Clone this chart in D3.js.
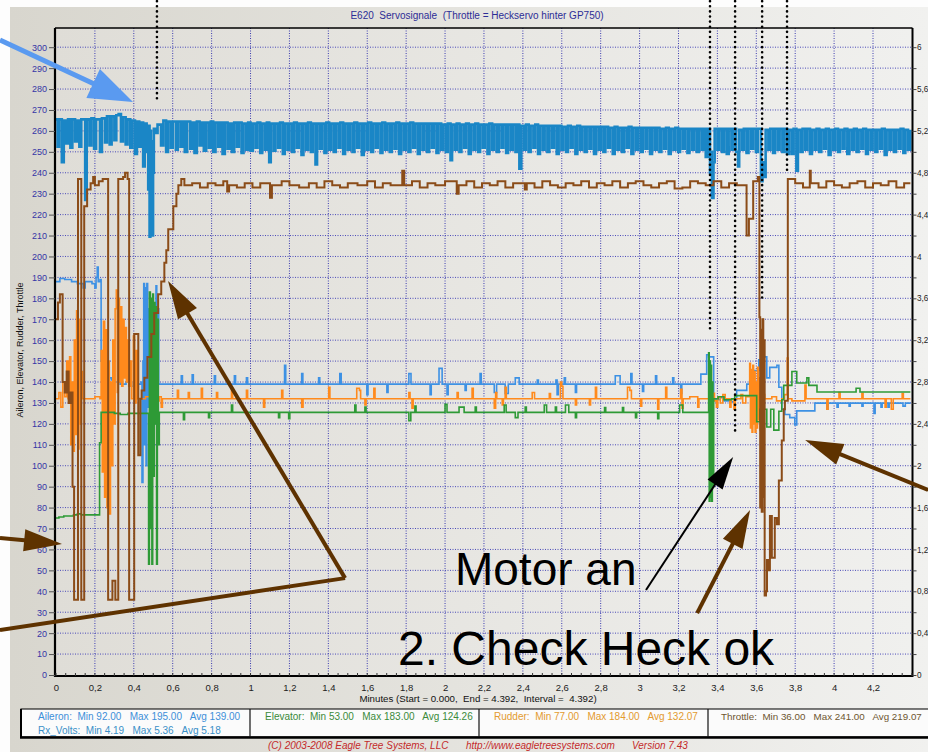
<!DOCTYPE html>
<html><head><meta charset="utf-8">
<script src="https://cdn.jsdelivr.net/npm/d3@7"></script>
<style>body{margin:0;background:#fff;} svg{display:block;} text{white-space:pre;}</style>
</head><body>
<svg id="c" width="928" height="752"></svg>
<script>
// ---------------- DATA ----------------
const chartTitle = "E620  Servosignale  (Throttle = Heckservo hinter GP750)";
const xTitle = "Minutes (Start = 0.000,  End = 4.392,  Interval =  4.392)";
const yTitle = "Aileron, Elevator, Rudder, Throttle";
const copyrightParts = ["(C) 2003-2008 Eagle Tree Systems, LLC", "http://www.eagletreesystems.com", "Version 7.43"];

const xTickVals = [0,0.2,0.4,0.6,0.8,1,1.2,1.4,1.6,1.8,2,2.2,2.4,2.6,2.8,3,3.2,3.4,3.6,3.8,4,4.2];
const yTickVals = [0,10,20,30,40,50,60,70,80,90,100,110,120,130,140,150,160,170,180,190,200,210,220,230,240,250,260,270,280,290,300];
const rTickVals = [0,0.2,0.4,0.6,0.8,1,1.2,1.4,1.6,1.8,2,2.2,2.4,2.6,2.8,3,3.2,3.4,3.6,3.8,4,4.2,4.4,4.6,4.8,5,5.2,5.4,5.6,5.8,6];
const rLabelVals = [0,0.4,0.8,1.2,1.6,2,2.4,2.8,3.2,3.6,4,4.4,4.8,5.2,5.6,6];

const statNames = ["Aileron","Elevator","Rudder","Throttle","Rx_Volts"];
const statMin = ["92.00","53.00","77.00","36.00","4.19"];
const statMax = ["195.00","183.00","184.00","241.00","5.36"];
const statAvg = ["139.00","124.26","132.07","219.07","5.18"];

// [minutes, value]
const rxVolts = [[0.000,5.31],[0.008,5.05],[0.016,5.31],[0.030,4.90],[0.040,5.30],[0.052,5.08],[0.062,5.31],[0.074,5.04],[0.084,5.31],[0.098,5.10],[0.108,5.30],[0.120,5.05],[0.130,5.31],[0.150,4.54],[0.158,5.31],[0.172,5.06],[0.182,5.32],[0.196,5.03],[0.206,5.31],[0.226,5.00],[0.236,5.32],[0.252,5.09],[0.262,5.34],[0.276,5.07],[0.286,5.34],[0.300,5.11],[0.310,5.35],[0.322,5.36],[0.334,5.10],[0.344,5.33],[0.358,5.07],[0.368,5.31],[0.382,5.04],[0.392,5.30],[0.406,4.98],[0.416,5.29],[0.428,5.05],[0.436,5.28],[0.448,4.86],[0.456,5.27],[0.466,5.00],[0.474,4.64],[0.478,5.25],[0.481,4.19],[0.485,5.20],[0.488,4.22],[0.492,5.10],[0.495,4.20],[0.499,4.80],[0.503,5.22],[0.512,5.18],[0.522,5.26],[0.540,5.06],[0.552,5.30],[0.566,5.00],[0.576,5.29],[0.590,5.04],[0.600,5.29],[0.616,5.02],[0.626,5.29],[0.640,5.05],[0.650,5.29],[0.662,5.00],[0.674,5.29],[0.690,5.03],[0.700,5.28],[0.712,4.99],[0.724,5.29],[0.738,5.06],[0.748,5.28],[0.760,5.01],[0.772,5.28],[0.786,5.04],[0.796,5.29],[0.808,5.00],[0.820,5.28],[0.834,5.05],[0.844,5.28],[0.856,4.98],[0.868,5.28],[0.882,5.03],[0.892,5.27],[0.904,5.00],[0.916,5.28],[0.930,5.05],[0.940,5.28],[0.954,4.99],[0.964,5.27],[0.978,5.02],[0.988,5.28],[1.000,5.01],[1.012,5.27],[1.026,5.04],[1.036,5.28],[1.050,4.99],[1.060,5.27],[1.074,5.02],[1.084,5.28],[1.096,4.90],[1.104,5.27],[1.118,5.01],[1.128,5.27],[1.142,5.04],[1.152,5.28],[1.166,4.98],[1.176,5.27],[1.190,5.02],[1.200,5.27],[1.214,5.00],[1.224,5.28],[1.238,5.04],[1.248,5.27],[1.262,4.97],[1.272,5.27],[1.286,5.02],[1.296,5.28],[1.310,5.00],[1.320,5.27],[1.334,4.88],[1.342,5.27],[1.356,5.03],[1.366,5.27],[1.380,4.99],[1.390,5.28],[1.404,5.02],[1.414,5.27],[1.428,5.00],[1.438,5.27],[1.452,5.04],[1.462,5.28],[1.476,4.98],[1.486,5.27],[1.500,5.02],[1.510,5.27],[1.524,5.00],[1.534,5.28],[1.548,5.04],[1.558,5.27],[1.572,4.97],[1.582,5.27],[1.596,5.02],[1.606,5.28],[1.620,5.00],[1.630,5.27],[1.644,5.04],[1.654,5.27],[1.668,4.99],[1.678,5.28],[1.692,5.02],[1.702,5.27],[1.716,5.00],[1.726,5.27],[1.740,5.03],[1.750,5.28],[1.764,4.98],[1.774,5.27],[1.788,5.02],[1.798,5.27],[1.812,5.00],[1.822,5.28],[1.836,5.04],[1.846,5.27],[1.860,4.98],[1.870,5.27],[1.884,5.02],[1.894,5.27],[1.908,5.00],[1.918,5.27],[1.932,5.04],[1.942,5.27],[1.956,4.99],[1.966,5.27],[1.980,5.02],[1.990,5.26],[2.004,5.00],[2.014,5.27],[2.028,4.92],[2.036,5.26],[2.050,5.02],[2.060,5.27],[2.074,5.00],[2.084,5.26],[2.098,5.04],[2.108,5.27],[2.122,4.98],[2.132,5.26],[2.146,5.02],[2.156,5.27],[2.170,5.00],[2.180,5.26],[2.194,5.04],[2.204,5.26],[2.218,4.98],[2.228,5.27],[2.242,5.02],[2.252,5.26],[2.266,5.00],[2.276,5.26],[2.290,5.04],[2.300,5.26],[2.314,4.99],[2.324,5.26],[2.338,5.02],[2.348,5.26],[2.362,5.00],[2.372,5.26],[2.382,4.84],[2.392,5.25],[2.406,5.02],[2.416,5.26],[2.430,5.00],[2.440,5.25],[2.454,5.04],[2.464,5.26],[2.478,4.98],[2.488,5.25],[2.502,5.02],[2.512,5.25],[2.526,5.00],[2.536,5.25],[2.550,5.04],[2.560,5.25],[2.574,4.98],[2.584,5.25],[2.598,5.02],[2.608,5.24],[2.622,5.00],[2.632,5.25],[2.646,5.04],[2.656,5.24],[2.670,4.98],[2.680,5.25],[2.694,5.02],[2.704,5.24],[2.718,5.00],[2.728,5.24],[2.742,5.03],[2.752,5.24],[2.766,4.98],[2.776,5.24],[2.790,5.02],[2.800,5.24],[2.814,5.00],[2.824,5.24],[2.838,5.04],[2.848,5.23],[2.862,4.98],[2.872,5.24],[2.886,5.02],[2.896,5.23],[2.910,5.00],[2.920,5.23],[2.934,5.04],[2.944,5.24],[2.958,4.98],[2.968,5.23],[2.982,5.02],[2.992,5.23],[3.006,5.00],[3.016,5.23],[3.030,5.03],[3.040,5.23],[3.054,4.98],[3.064,5.23],[3.078,5.02],[3.088,5.23],[3.102,5.00],[3.112,5.22],[3.126,5.03],[3.136,5.23],[3.150,4.98],[3.160,5.22],[3.174,5.02],[3.184,5.23],[3.198,5.00],[3.208,5.22],[3.222,5.03],[3.232,5.22],[3.246,4.99],[3.256,5.22],[3.270,5.02],[3.280,5.22],[3.294,5.00],[3.304,5.22],[3.318,5.02],[3.328,5.22],[3.340,4.95],[3.352,5.22],[3.362,4.80],[3.368,5.00],[3.372,4.56],[3.380,4.90],[3.386,5.22],[3.400,5.02],[3.410,5.22],[3.424,5.00],[3.434,5.22],[3.448,4.98],[3.458,5.22],[3.472,5.02],[3.482,5.22],[3.496,5.00],[3.506,4.86],[3.512,5.21],[3.526,5.02],[3.536,5.22],[3.550,4.99],[3.560,5.22],[3.574,5.03],[3.584,5.22],[3.598,5.00],[3.608,5.22],[3.624,4.72],[3.632,4.90],[3.640,4.76],[3.648,5.21],[3.662,5.02],[3.672,5.22],[3.686,4.99],[3.696,5.22],[3.710,5.02],[3.720,5.22],[3.734,5.00],[3.744,5.22],[3.758,4.98],[3.768,5.21],[3.782,4.98],[3.792,5.22],[3.806,4.82],[3.814,5.21],[3.828,5.00],[3.838,5.22],[3.852,5.02],[3.862,5.22],[3.876,4.98],[3.886,5.21],[3.900,5.02],[3.910,5.22],[3.924,5.00],[3.934,5.21],[3.948,5.03],[3.958,5.22],[3.972,4.97],[3.982,5.21],[3.996,5.02],[4.006,5.22],[4.020,5.00],[4.030,5.21],[4.044,5.03],[4.054,5.22],[4.068,4.98],[4.078,5.21],[4.092,5.02],[4.102,5.22],[4.116,5.00],[4.126,5.21],[4.140,5.03],[4.150,5.22],[4.164,4.98],[4.174,5.21],[4.188,5.02],[4.198,5.21],[4.212,5.00],[4.222,5.21],[4.236,5.03],[4.246,5.22],[4.260,4.97],[4.270,5.21],[4.284,5.02],[4.294,5.21],[4.308,5.00],[4.318,5.21],[4.332,5.03],[4.342,5.22],[4.356,4.99],[4.366,5.21],[4.380,5.02],[4.392,5.21]];

const throttle = [[0.000,170],[0.010,178],[0.020,182],[0.034,140],[0.045,135],[0.055,145],[0.065,130],[0.075,135],[0.085,90],[0.093,36],[0.113,237],[0.128,237],[0.130,36],[0.145,224],[0.160,232],[0.178,235],[0.191,238],[0.200,234],[0.220,236],[0.240,237],[0.268,36],[0.290,45],[0.305,36],[0.320,237],[0.345,238],[0.355,240],[0.368,237],[0.376,36],[0.402,163],[0.423,105],[0.434,132],[0.440,136],[0.454,142],[0.470,152],[0.490,163],[0.505,173],[0.525,182],[0.541,188],[0.557,197],[0.567,203],[0.577,213],[0.603,224],[0.619,230],[0.629,234],[0.644,237],[0.660,234],[0.700,235],[0.740,233],[0.780,235],[0.820,234],[0.860,236],[0.880,231],[0.890,234],[0.930,233],[0.970,235],[1.010,233],[1.050,235],[1.100,228],[1.110,234],[1.160,236],[1.200,234],[1.250,233],[1.300,235],[1.340,233],[1.380,236],[1.420,234],[1.460,233],[1.500,235],[1.550,234],[1.600,236],[1.640,233],[1.680,235],[1.720,234],[1.780,241],[1.790,234],[1.830,236],[1.870,233],[1.910,235],[1.950,234],[2.000,236],[2.060,230],[2.070,234],[2.110,236],[2.150,233],[2.190,235],[2.230,234],[2.270,236],[2.310,233],[2.350,235],[2.410,232],[2.420,235],[2.460,233],[2.500,236],[2.540,234],[2.580,233],[2.620,235],[2.660,234],[2.700,236],[2.740,233],[2.780,235],[2.820,234],[2.860,236],[2.900,233],[2.940,235],[2.980,236],[3.020,234],[3.060,233],[3.100,235],[3.140,236],[3.180,232.5],[3.220,233],[3.260,236],[3.300,235],[3.340,234],[3.380,236],[3.420,233],[3.460,235],[3.500,234],[3.550,210],[3.562,218],[3.584,236],[3.608,238],[3.616,171],[3.620,80],[3.624,165],[3.628,78],[3.632,170],[3.636,85],[3.640,160],[3.643,38],[3.650,40],[3.655,55],[3.660,50],[3.670,76],[3.680,56],[3.695,75],[3.706,72],[3.716,93],[3.731,112],[3.741,127],[3.747,131],[3.762,237],[3.800,235],[3.840,233],[3.875,241],[3.880,235],[3.920,233],[3.960,236],[4.000,234],[4.040,233],[4.080,235],[4.120,236],[4.160,233],[4.200,235],[4.240,234],[4.280,236],[4.320,233],[4.360,235],[4.392,235]];

const rudder = [[0.000,132],[0.015,135],[0.025,128],[0.035,140],[0.045,133],[0.055,150],[0.062,132],[0.070,152],[0.076,110],[0.082,140],[0.088,107],[0.094,160],[0.100,115],[0.106,174],[0.112,108],[0.118,170],[0.124,120],[0.130,145],[0.136,132],[0.180,132],[0.200,133],[0.226,132],[0.232,155],[0.238,97],[0.244,169],[0.250,85],[0.256,165],[0.262,80],[0.268,150],[0.274,77],[0.280,140],[0.286,100],[0.292,160],[0.298,120],[0.304,175],[0.310,184],[0.315,135],[0.320,180],[0.326,140],[0.332,176],[0.338,138],[0.344,170],[0.350,142],[0.356,166],[0.362,140],[0.368,160],[0.374,138],[0.380,150],[0.388,132],[0.398,162],[0.404,130],[0.412,155],[0.418,132],[0.460,133],[0.500,131],[0.530,133],[0.541,128],[0.547,132],[0.624,136],[0.630,132],[0.680,135],[0.686,132],[0.747,137],[0.753,132],[0.825,135],[0.831,132],[0.902,137],[0.908,132],[0.979,136],[0.985,132],[1.067,128],[1.073,132],[1.160,136],[1.166,132],[1.263,128],[1.270,132],[1.402,137.5],[1.408,132],[1.546,137],[1.560,136],[1.566,132],[1.588,129],[1.594,132],[1.634,137],[1.640,132],[1.814,135],[1.820,132],[1.830,127.5],[1.836,132],[2.062,135],[2.068,132],[2.139,137],[2.145,132],[2.253,127.5],[2.260,135],[2.266,132],[2.294,129],[2.300,132],[2.309,137.5],[2.315,132],[2.448,135],[2.460,132],[2.536,134.5],[2.542,132],[2.593,140],[2.600,138],[2.606,132],[2.670,129],[2.676,132],[2.742,129],[2.748,132],[2.773,137.5],[2.779,132],[2.938,137.5],[2.950,136],[2.958,132],[3.005,128.5],[3.011,132],[3.093,127],[3.099,132],[3.134,137.5],[3.140,132],[3.211,136.5],[3.218,127.5],[3.224,132],[3.258,133],[3.299,128],[3.305,132],[3.376,134.6],[3.385,131],[3.395,128],[3.402,133],[3.415,130],[3.428,134],[3.440,132],[3.464,128],[3.470,132],[3.485,127],[3.492,132],[3.521,134],[3.530,130],[3.546,133],[3.566,149],[3.570,118],[3.574,146],[3.578,116],[3.582,148],[3.586,120],[3.590,145],[3.594,116],[3.598,140],[3.602,118],[3.606,147],[3.610,122],[3.614,142],[3.620,117],[3.626,138],[3.632,124],[3.638,134],[3.643,132],[3.680,133],[3.704,131],[3.731,132],[3.745,134],[3.759,151.5],[3.764,132],[3.783,131],[3.850,138.5],[3.856,132],[3.963,127],[3.969,132],[4.025,135],[4.031,132],[4.143,134.6],[4.149,132],[4.262,128],[4.268,132],[4.294,127],[4.304,132],[4.350,134.5],[4.356,132],[4.392,132]];

const aileron = [[0.000,188],[0.020,189.5],[0.045,189],[0.080,188],[0.110,187],[0.140,185],[0.150,188],[0.185,187],[0.200,185],[0.206,190],[0.212,195],[0.217,188],[0.226,189],[0.232,150],[0.240,146],[0.246,125],[0.252,149],[0.264,142],[0.284,141],[0.300,140],[0.330,139],[0.360,140],[0.390,138],[0.420,139],[0.438,140],[0.442,92],[0.447,150],[0.451,187],[0.455,110],[0.459,185],[0.463,100],[0.467,187],[0.471,128],[0.475,175],[0.479,140],[0.506,173],[0.510,138],[0.514,186],[0.518,140],[0.522,175],[0.528,139],[0.644,143],[0.650,139],[0.700,143.5],[0.706,139],[0.814,143],[0.820,139],[0.917,143],[0.923,139],[0.979,142],[0.985,139],[1.175,148],[1.181,139],[1.263,144],[1.269,139],[1.350,142],[1.356,139],[1.459,144],[1.466,139],[1.598,134],[1.604,139],[1.701,135],[1.707,139],[1.814,144],[1.825,139],[1.923,134],[1.929,139],[1.969,146.5],[1.985,139],[2.010,134],[2.016,139],[2.103,136],[2.109,139],[2.180,144],[2.186,139],[2.253,135],[2.265,139],[2.309,134.5],[2.325,139],[2.361,142],[2.381,139],[2.474,141],[2.480,139],[2.570,141],[2.576,134],[2.582,139],[2.613,142],[2.619,139],[2.670,135],[2.676,139],[2.875,143],[2.900,139],[2.955,144],[2.961,139],[3.015,135.5],[3.021,139],[3.082,143],[3.088,139],[3.170,142],[3.176,139],[3.211,134.5],[3.217,139],[3.315,143.8],[3.345,153],[3.355,152],[3.381,131.5],[3.414,132.5],[3.434,131],[3.464,130.5],[3.489,131.5],[3.499,136],[3.525,136],[3.551,139],[3.566,140],[3.587,145.5],[3.613,150.6],[3.638,152],[3.654,142],[3.669,147],[3.706,148],[3.716,137.5],[3.731,127],[3.747,124.5],[3.772,123],[3.798,119.5],[3.808,126.2],[3.901,129.9],[3.963,127],[3.969,129.9],[4.015,128],[4.021,129.9],[4.077,128.5],[4.083,129.9],[4.143,128.5],[4.149,129.9],[4.205,125],[4.211,129.9],[4.241,128],[4.247,129.9],[4.277,128],[4.283,129.9],[4.354,128.5],[4.366,129.9],[4.392,129.9]];

const elevator = [[0.000,75],[0.015,75.5],[0.040,76],[0.070,76],[0.090,76.5],[0.110,77],[0.130,76.5],[0.222,76.5],[0.224,111],[0.232,125.5],[0.300,125],[0.330,124.5],[0.370,125],[0.474,125],[0.476,53],[0.480,183],[0.485,70],[0.489,180],[0.493,53],[0.497,182],[0.501,95],[0.505,178],[0.509,120],[0.513,176],[0.517,53],[0.521,170],[0.526,110],[0.531,125.5],[0.655,122],[0.661,125.5],[0.784,123],[0.790,125.5],[0.902,129],[0.908,125.5],[1.144,123],[1.150,125.5],[1.196,122.5],[1.202,125.5],[1.536,129],[1.542,125.5],[1.588,128],[1.594,125.5],[1.814,121.5],[1.824,125.5],[1.845,128.5],[1.851,125.5],[2.000,129.3],[2.010,125.5],[2.072,128],[2.098,125.5],[2.155,128],[2.161,125.5],[2.304,129],[2.314,125.5],[2.361,123],[2.375,125.5],[2.412,128],[2.418,125.5],[2.510,129],[2.522,125.5],[2.567,128],[2.573,125.5],[2.619,129],[2.636,125.5],[2.670,123],[2.676,125.5],[2.820,127.8],[2.826,125.5],[2.912,127.8],[2.918,125.5],[2.979,123],[2.985,125.5],[3.093,122.5],[3.099,125.5],[3.206,129],[3.222,125.5],[3.355,154],[3.358,83],[3.361,150],[3.364,85],[3.367,148],[3.370,83],[3.374,140],[3.377,90],[3.381,132],[3.404,133],[3.434,131.5],[3.474,132],[3.489,133.4],[3.499,133.5],[3.602,121],[3.618,127],[3.654,118.5],[3.674,127],[3.690,117],[3.716,126],[3.731,131.5],[3.741,138.4],[3.783,145],[3.808,139.5],[3.860,142],[3.870,138.4],[3.912,135.2],[4.113,137],[4.133,135.2],[4.392,135.2]];

// Annotations (in data units: minutes, left-axis value)
const blueArrow = {from:[-0.288,303.4], to:[0.396,273.8]};
const dottedMarks = [[0.519,322,275.2],[3.362,322,163.9],[3.491,322,114.7],[3.630,322,180.1],[3.758,322,241.3]];
const brownArrows = [
  {from:[1.486,46.3], to:[0.576,188.3], head:true},
  {from:[1.486,46.3], to:[-0.288,21.5], head:false},
  {from:[-0.288,65.5], to:[0.031,62.6], head:true},
  {from:[3.296,29.6], to:[3.568,78.8], head:true},
  {from:[4.483,88.4], to:[3.851,112.3], head:true}
];
const blackArrow = {from:[3.033,40.6], to:[3.481,104.2]};
const bigLabels = [{text:"Motor an", at:[2.051,43.0], size:46},{text:"2. Check Heck ok", at:[1.758,4.8], size:48}];

// ---------------- DRAW ----------------
const FONT = '"Liberation Sans", Arial, Helvetica, sans-serif';
const svg = d3.select("#c").attr("font-family", FONT);
const x = d3.scaleLinear().domain([0, 4.403]).range([56, 912.5]);
const y = d3.scaleLinear().domain([0, 300]).range([675, 47.2]);
const yR = d3.scaleLinear().domain([0, 6]).range([675, 47.2]);
const PL = 55, PR = 912.5, PT = 28, PB = 676;

const defs = svg.append("defs");
const gb = defs.append("linearGradient").attr("id","gbg").attr("x1",0).attr("x2",1).attr("y1",0).attr("y2",0);
gb.append("stop").attr("offset",0).attr("stop-color","#d8d6ce");
gb.append("stop").attr("offset",1).attr("stop-color","#f1f1ef");
const gp = defs.append("linearGradient").attr("id","gpl").attr("x1",0).attr("x2",1).attr("y1",0).attr("y2",0);
gp.append("stop").attr("offset",0).attr("stop-color","#dfddd7");
gp.append("stop").attr("offset",1).attr("stop-color","#f0f0ee");
defs.append("clipPath").attr("id","clip").append("rect").attr("x",PL).attr("y",PT).attr("width",PR-PL).attr("height",PB-PT);

svg.append("rect").attr("width",928).attr("height",752).attr("fill","#fdfdfd");
svg.append("rect").attr("x",10).attr("y",7).attr("width",918).attr("height",745).attr("fill","url(#gbg)");
svg.append("rect").attr("x",PL).attr("y",PT).attr("width",PR-PL).attr("height",PB-PT).attr("fill","url(#gpl)");

// grid
const grid = svg.append("g");
grid.selectAll("line.h").data(yTickVals.filter(v=>v>0)).join("line")
  .attr("x1",PL).attr("x2",PR).attr("y1",d=>y(d)).attr("y2",d=>y(d))
  .attr("stroke","#4a4ab8").attr("stroke-width",1).attr("stroke-dasharray","1,1.5");
grid.selectAll("line.v").data(xTickVals.filter(v=>v>0)).join("line")
  .attr("y1",PT).attr("y2",PB).attr("x1",d=>x(d)).attr("x2",d=>x(d))
  .attr("stroke","#3c3cb0").attr("stroke-width",1).attr("stroke-dasharray","1,1.5");

// series
const mk = sc => d3.line().x(d=>x(d[0])).y(d=>sc(d[1])).curve(d3.curveStepAfter);
const series = [
  {data: rxVolts, sc: yR, color:"#1a86c6", w:2.6},
  {data: aileron, sc: y, color:"#3d91e4", w:1.6},
  {data: rudder, sc: y, color:"#ff8a1c", w:1.6},
  {data: elevator, sc: y, color:"#2e9a36", w:1.6},
  {data: throttle, sc: y, color:"#8b4c18", w:2}
];
const sg = svg.append("g").attr("clip-path","url(#clip)");
series.forEach(s => sg.append("path").attr("d", mk(s.sc)(s.data)).attr("fill","none")
  .attr("stroke", s.color).attr("stroke-width", s.w).attr("stroke-linejoin","miter"));

// borders
const bd = svg.append("g").attr("stroke","#000");
bd.append("line").attr("x1",PL).attr("x2",PR).attr("y1",PT).attr("y2",PT).attr("stroke-width",1.5);
bd.append("line").attr("x1",PR).attr("x2",PR).attr("y1",PT).attr("y2",PB+1).attr("stroke-width",2);
bd.append("line").attr("x1",PL).attr("x2",PR).attr("y1",PB).attr("y2",PB).attr("stroke-width",2);
bd.append("line").attr("x1",PL).attr("x2",PL).attr("y1",PT).attr("y2",PB+1).attr("stroke-width",2.2);

// minor x ticks
const minorX = d3.range(0, 89).map(i => i*0.05);
svg.append("g").selectAll("line").data(minorX).join("line")
  .attr("x1",d=>x(d)).attr("x2",d=>x(d)).attr("y1",PB).attr("y2",PB-3)
  .attr("stroke","#333").attr("stroke-width",1);

const fmtC = d => String(Math.round(d*10)/10).replace(".", ",");

// axes
const ax = svg.append("g").attr("transform",`translate(0,${PB})`)
  .call(d3.axisBottom(x).tickValues(xTickVals).tickSize(0).tickPadding(8).tickFormat(fmtC));
ax.select(".domain").remove();
ax.attr("font-family",FONT).attr("font-size",9.5);
ax.selectAll("text").attr("fill","#222");

const ayl = svg.append("g").attr("transform",`translate(${PL},0)`)
  .call(d3.axisLeft(y).tickValues(yTickVals).tickSize(6).tickPadding(2).tickFormat(d3.format("d")));
ayl.select(".domain").remove();
ayl.attr("font-family",FONT).attr("font-size",9);
ayl.selectAll("text").attr("fill","#3535a6");
ayl.selectAll("line").attr("stroke","#555");

const ayr = svg.append("g").attr("transform",`translate(${PR},0)`)
  .call(d3.axisRight(yR).tickValues(rTickVals).tickSize(4).tickPadding(0.5)
    .tickFormat(d => rLabelVals.some(v=>Math.abs(v-d)<1e-6) ? fmtC(d) : ""));
ayr.select(".domain").remove();
ayr.attr("font-family",FONT).attr("font-size",8.2);
ayr.selectAll("text").attr("fill","#222");
ayr.selectAll("line").attr("stroke","#444");

// titles
svg.append("text").attr("x",477).attr("y",19).attr("text-anchor","middle").attr("font-size",10).attr("fill","#2d2d96").text(chartTitle);
svg.append("text").attr("x",478).attr("y",702).attr("text-anchor","middle").attr("font-size",9.7).attr("fill","#111").text(xTitle);
svg.append("text").attr("transform","translate(23,350) rotate(-90)").attr("text-anchor","middle").attr("font-size",9).attr("fill","#111").text(yTitle);

// stats box
const box = svg.append("g");
box.append("rect").attr("x",21).attr("y",709).attr("width",1000).attr("height",28).attr("fill","#fbfbfb").attr("stroke","#111").attr("stroke-width",1.1);
box.append("line").attr("x1",20).attr("x2",928).attr("y1",737.5).attr("y2",737.5).attr("stroke","#000").attr("stroke-width",2.6);
box.append("line").attr("x1",21).attr("x2",21).attr("y1",709).attr("y2",738).attr("stroke","#000").attr("stroke-width",2);
[250,479,708].forEach(xx => box.append("line").attr("x1",xx).attr("x2",xx).attr("y1",709).attr("y2",737).attr("stroke","#111").attr("stroke-width",1.2));
const statColors = ["#3d8fd9","#3a8a3a","#e39a2e","#6e5630","#3a90c8"];
const statPos = [[38,720],[265,720],[494,720],[721,720],[38,733.5]];
statNames.forEach((n,i) => {
  box.append("text").attr("x",statPos[i][0]).attr("y",statPos[i][1]).attr("font-size",i===3?9.8:10).attr("fill",statColors[i])
    .text(`${n}:  Min ${statMin[i]}   Max ${statMax[i]}   Avg ${statAvg[i]}`);
});

// copyright
const cp = svg.append("text").attr("y",749).attr("font-size",10).attr("font-style","italic").attr("fill","#c42a2a");
cp.append("tspan").attr("x",268).text(copyrightParts[0]);
cp.append("tspan").attr("x",466).text(copyrightParts[1]);
cp.append("tspan").attr("x",632).text(copyrightParts[2]);

// annotations
const ann = svg.append("g");
function arrow(a, color, w, headLen, headHalf, head=true) {
  const x0 = x(a.from[0]), y0 = y(a.from[1]), x1 = x(a.to[0]), y1 = y(a.to[1]);
  const dx = x1-x0, dy = y1-y0, L = Math.hypot(dx,dy), ux = dx/L, uy = dy/L;
  const bx = x1-ux*headLen, by = y1-uy*headLen;
  ann.append("line").attr("x1",x0).attr("y1",y0).attr("x2", head ? bx+ux*3 : x1).attr("y2", head ? by+uy*3 : y1)
    .attr("stroke",color).attr("stroke-width",w);
  if (head) ann.append("path").attr("d",`M${x1},${y1}L${bx-uy*headHalf},${by+ux*headHalf}L${bx+uy*headHalf},${by-ux*headHalf}Z`).attr("fill",color);
}
dottedMarks.forEach(d => ann.append("line").attr("x1",x(d[0])).attr("x2",x(d[0])).attr("y1",y(d[1])).attr("y2",y(d[2]))
  .attr("stroke","#000").attr("stroke-width",2.6).attr("stroke-linecap","round").attr("stroke-dasharray","0.01,5.1"));
arrow(blueArrow, "#5a9af0", 5, 44, 16);
brownArrows.forEach(b => arrow(b, "#5e3200", 4, 38, 11, b.head));
arrow(blackArrow, "#000", 2, 33, 9);
bigLabels.forEach(l => ann.append("text").attr("x",x(l.at[0])).attr("y",y(l.at[1])).attr("font-size",l.size).attr("fill","#000").text(l.text));
</script>
</body></html>
